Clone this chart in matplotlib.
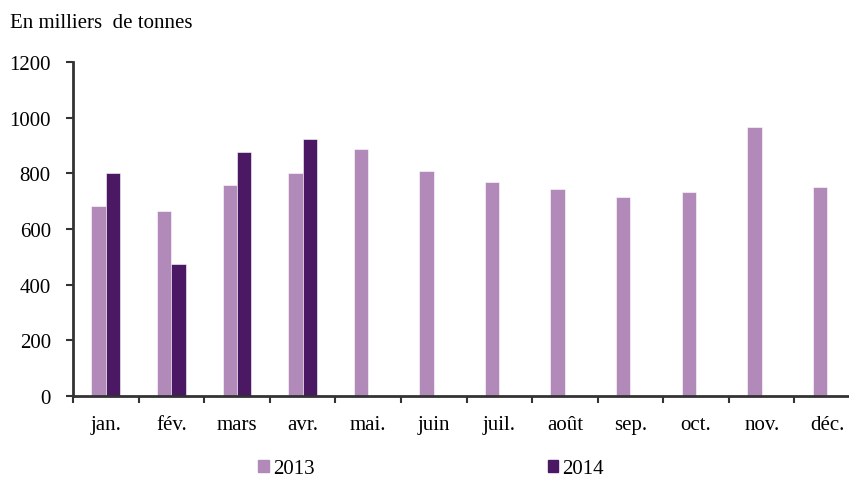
import numpy as np
import matplotlib.pyplot as plt
from matplotlib.patches import Patch

mois = ['jan.', 'fév.', 'mars', 'avr.', 'mai.', 'juin', 'juil.', 'août',
        'sep.', 'oct.', 'nov.', 'déc.']
v2013 = [683, 665, 758, 801, 887, 807, 770, 745, 714, 733, 967, 751]
v2014 = [801, 474, 877, 923]

c2013 = '#b28ab9'
c2014 = '#4b1863'
axis_col = '#333333'

plt.rcParams['font.family'] = ['Liberation Serif', 'DejaVu Serif']
plt.rcParams['font.size'] = 15

fig = plt.figure(figsize=(8.49, 4.81), dpi=100)
# axes runs a bit past the right edge, like the source chart
ax = fig.add_axes([0.086, 0.175, 0.927, 0.694])

x = np.arange(len(mois))
w = 0.22
ax.bar(x - w / 2, v2013, width=w, color=c2013, edgecolor='white', linewidth=0.4)
ax.bar(x[:len(v2014)] + w / 2, v2014, width=w, color=c2014, edgecolor='white', linewidth=0.4)

ax.set_xlim(-0.5, len(mois) - 0.5)
ax.set_ylim(0, 1200)
ax.set_yticks(range(0, 1201, 200))

# month labels centred, ticks at category boundaries
ax.set_xticks(x)
ax.set_xticklabels(mois)
ax.set_xticks(np.arange(-0.5, len(mois)), minor=True)
ax.tick_params(axis='x', which='major', length=0, pad=14)
ax.tick_params(axis='x', which='minor', length=5, width=1.5, color=axis_col, direction='out')
ax.tick_params(axis='y', length=5, width=1.5, color=axis_col, direction='out', pad=11)

for s in ['top', 'right']:
    ax.spines[s].set_visible(False)
for s in ['left', 'bottom']:
    ax.spines[s].set_color(axis_col)
    ax.spines[s].set_linewidth(2)

fig.text(0.012, 0.952, 'En milliers  de tonnes', fontsize=15, va='center', ha='left')

handles = [Patch(color=c2013, label='2013'), Patch(color=c2014, label='2014')]
fig.legend(handles=handles, ncol=2, loc='center left', bbox_to_anchor=(0.304, 0.023),
           frameon=False, handlelength=0.5, handleheight=0.5, handletextpad=0.2,
           columnspacing=11.2, borderpad=0, borderaxespad=0)

fig.savefig('out.png', dpi=100)
